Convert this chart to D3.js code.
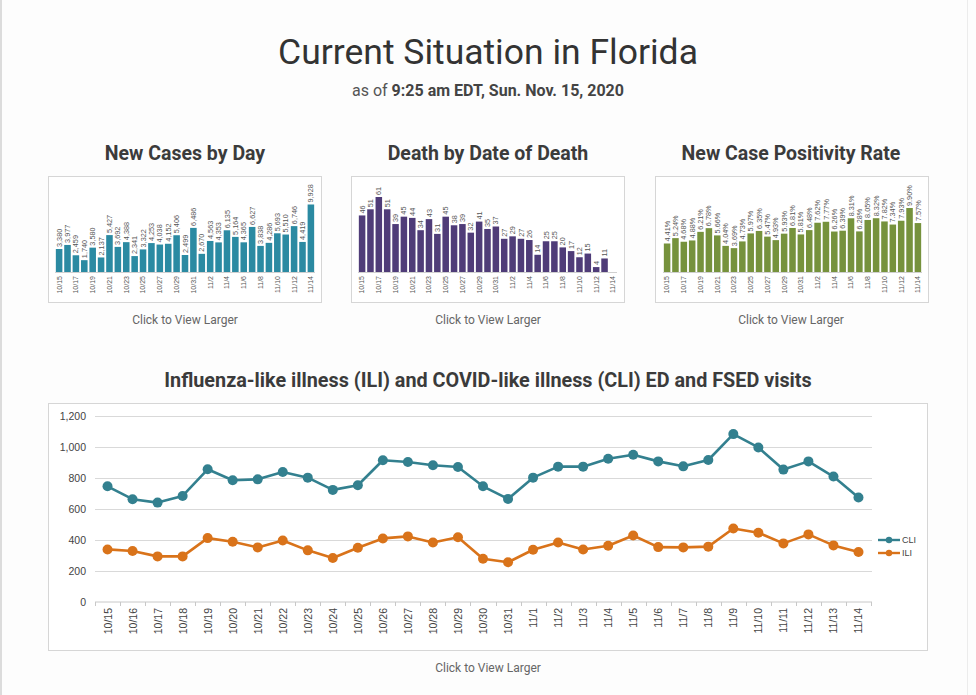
<!DOCTYPE html>
<html><head><meta charset="utf-8">
<script src="https://cdn.jsdelivr.net/npm/d3@7"></script>
<style>
html,body{margin:0;padding:0;background:#fff;}
svg{display:block;}
</style></head>
<body>
<svg id="c" width="976" height="695"></svg>
<script>
// ---------- DATA ----------
const dates = ["10/15","10/16","10/17","10/18","10/19","10/20","10/21","10/22","10/23","10/24","10/25","10/26","10/27","10/28","10/29","10/30","10/31","11/1","11/2","11/3","11/4","11/5","11/6","11/7","11/8","11/9","11/10","11/11","11/12","11/13","11/14"];
const newCases = [3380,3977,2459,1740,3580,2137,5427,3692,4388,2341,3322,4253,4038,4152,5406,2499,6486,2670,4563,4353,6135,5164,4365,6627,3838,4286,5693,5510,6746,4419,9928];
const deaths = [46,51,61,51,39,45,44,34,43,31,45,38,39,32,41,35,37,27,29,27,26,14,25,25,20,17,12,15,4,11,null];
const positivity = [4.41,5.24,4.68,4.88,6.21,6.78,5.66,4.04,3.69,4.73,5.97,6.35,5.47,4.93,5.93,6.81,5.81,6.48,7.62,7.77,6.26,6.39,8.31,6.28,8.05,8.32,7.82,7.34,7.93,9.90,7.57];
const cli = [743,660,638,681,853,782,788,836,799,720,750,911,900,879,868,743,662,799,870,870,921,947,904,872,913,1080,994,851,904,806,671];
const ili = [336,326,291,291,409,386,349,394,330,281,347,407,420,381,414,276,253,334,381,336,360,426,351,349,354,471,444,375,433,362,319];
const yTicks = [0,200,400,600,800,1000,1200];

const svg = d3.select("#c");
const HEAD = "Roboto, 'Noto Sans', sans-serif";
const CH = "'Liberation Sans', Arial, sans-serif";

// page edges
svg.append("rect").attr("x",0).attr("y",0).attr("width",976).attr("height",695).attr("fill","#fdfdfd");
svg.append("rect").attr("x",0).attr("y",0).attr("width",2).attr("height",695).attr("fill","#dcdcdc");
svg.append("rect").attr("x",967).attr("y",0).attr("width",1).attr("height",695).attr("fill","#ececec");

// headings
svg.append("text").attr("x",488).attr("y",64).attr("text-anchor","middle")
  .attr("font-family",HEAD).attr("font-size",35.5).attr("fill","#333").text("Current Situation in Florida");
const sub = svg.append("text").attr("x",488).attr("y",96).attr("text-anchor","middle")
  .attr("font-family",HEAD).attr("font-size",16).attr("fill","#555");
sub.append("tspan").text("as of ");
sub.append("tspan").attr("font-weight","bold").attr("fill","#444").text("9:25 am EDT, Sun. Nov. 15, 2020");

// ---------- small bar charts ----------
function smallChart(cfg){
  const g = svg.append("g");
  g.append("text").attr("x",cfg.cx).attr("y",160).attr("text-anchor","middle")
    .attr("font-family",HEAD).attr("font-size",19.5).attr("font-weight","bold").attr("fill","#3b3b3b").text(cfg.title);
  g.append("rect").attr("x",cfg.bx+0.5).attr("y",176.5).attr("width",273).attr("height",126)
    .attr("fill","#fff").attr("stroke","#d6d6d6");
  const x = d3.scaleBand().domain(dates).range([cfg.x0,cfg.x1]).paddingInner(0.22).paddingOuter(0.1);
  const y = d3.scaleLinear().domain([0,cfg.max]).range([272,272-cfg.pxMax]);
  const data = dates.map((d,i)=>({d,v:cfg.values[i]}));
  g.selectAll(".bar").data(data.filter(e=>e.v!=null)).join("rect")
    .attr("x",e=>x(e.d)).attr("width",x.bandwidth())
    .attr("y",e=>y(e.v)).attr("height",e=>y(0)-y(e.v)).attr("fill",cfg.color);
  g.selectAll(".vl").data(data.filter(e=>e.v!=null)).join("text")
    .attr("transform",e=>`translate(${x(e.d)+x.bandwidth()/2+2.6},${y(e.v)-2}) rotate(-90)`)
    .attr("font-family",CH).attr("font-size",7.3).attr("fill","#555").text(e=>cfg.fmt(e.v));
  g.append("line").attr("x1",cfg.x0).attr("x2",cfg.x1).attr("y1",272.5).attr("y2",272.5).attr("stroke","#d0d0d0");
  g.selectAll(".xl").data(dates.filter((d,i)=>i%2===0)).join("text")
    .attr("transform",d=>`translate(${x(d)+x.bandwidth()/2+2.4},276) rotate(-90)`)
    .attr("text-anchor","end").attr("font-family",CH).attr("font-size",7).attr("fill","#555").text(d=>d);
  g.append("text").attr("x",cfg.cx).attr("y",324).attr("text-anchor","middle")
    .attr("font-family",HEAD).attr("font-size",12).attr("fill","#666").text("Click to View Larger");
}
const fmtInt = d3.format(",");
smallChart({title:"New Cases by Day",cx:185,bx:48,x0:55,x1:315,values:newCases,max:10000,pxMax:68,color:"#2b8aa2",fmt:fmtInt});
smallChart({title:"Death by Date of Death",cx:488,bx:351,x0:358,x1:617,values:deaths,max:61,pxMax:75,color:"#4f3c78",fmt:d=>d});
smallChart({title:"New Case Positivity Rate",cx:791,bx:655,x0:663,x1:922,values:positivity,max:9.9,pxMax:64,color:"#76923c",fmt:d=>d.toFixed(2)+"%"});

// ---------- big line chart ----------
svg.append("text").attr("x",488).attr("y",387).attr("text-anchor","middle")
  .attr("font-family",HEAD).attr("font-size",19.8).attr("font-weight","bold").attr("fill","#3b3b3b")
  .text("Influenza-like illness (ILI) and COVID-like illness (CLI) ED and FSED visits");
svg.append("rect").attr("x",48.5).attr("y",403.5).attr("width",879).attr("height",247)
  .attr("fill","#fff").attr("stroke","#d6d6d6");
const bx = d3.scaleBand().domain(dates).range([95,871]);
const by = d3.scaleLinear().domain([0,1200]).range([601.5,415.5]);
const lg = svg.append("g");
lg.selectAll(".grid").data(yTicks.filter(t=>t>0)).join("line")
  .attr("x1",95).attr("x2",872).attr("y1",t=>Math.round(by(t))+0.5).attr("y2",t=>Math.round(by(t))+0.5)
  .attr("stroke","#d9d9d9");
lg.append("line").attr("x1",95).attr("x2",872).attr("y1",602).attr("y2",602).attr("stroke","#c8c8c8");
const bounds = dates.map(d=>bx(d)).concat([bx.range()[1]]);
lg.selectAll(".tk").data(bounds).join("line")
  .attr("x1",d=>Math.round(d)+0.5).attr("x2",d=>Math.round(d)+0.5).attr("y1",602).attr("y2",606).attr("stroke","#c8c8c8");
lg.selectAll(".yl").data(yTicks).join("text")
  .attr("x",86).attr("y",t=>by(t)+4).attr("text-anchor","end")
  .attr("font-family",CH).attr("font-size",10.5).attr("fill","#444").text(d=>fmtInt(d));
lg.selectAll(".xl").data(dates).join("text")
  .attr("transform",d=>`translate(${bx(d)+bx.bandwidth()/2+4},608) rotate(-90)`)
  .attr("text-anchor","end").attr("font-family",CH).attr("font-size",10.5).attr("fill","#444").text(d=>d);

function series(vals,color){
  const pts = dates.map((d,i)=>[bx(d)+bx.bandwidth()/2, by(vals[i])]);
  lg.append("path").attr("d",d3.line()(pts)).attr("fill","none").attr("stroke",color).attr("stroke-width",2.6).attr("stroke-linejoin","round");
  lg.selectAll(null).data(pts).join("circle").attr("cx",p=>p[0]).attr("cy",p=>p[1]).attr("r",5).attr("fill",color);
}
series(cli,"#33808f");
series(ili,"#d9731a");

// legend
const leg = [["CLI","#33808f",540],["ILI","#d9731a",553]];
leg.forEach(([name,color,yy])=>{
  lg.append("line").attr("x1",878).attr("x2",900).attr("y1",yy).attr("y2",yy).attr("stroke",color).attr("stroke-width",2.4);
  lg.append("circle").attr("cx",889).attr("cy",yy).attr("r",3.2).attr("fill",color);
  lg.append("text").attr("x",902).attr("y",yy+3.3).attr("font-family",CH).attr("font-size",9).attr("fill","#444").text(name);
});
svg.append("text").attr("x",488).attr("y",672).attr("text-anchor","middle")
  .attr("font-family",HEAD).attr("font-size",12).attr("fill","#666").text("Click to View Larger");
</script>
</body></html>
